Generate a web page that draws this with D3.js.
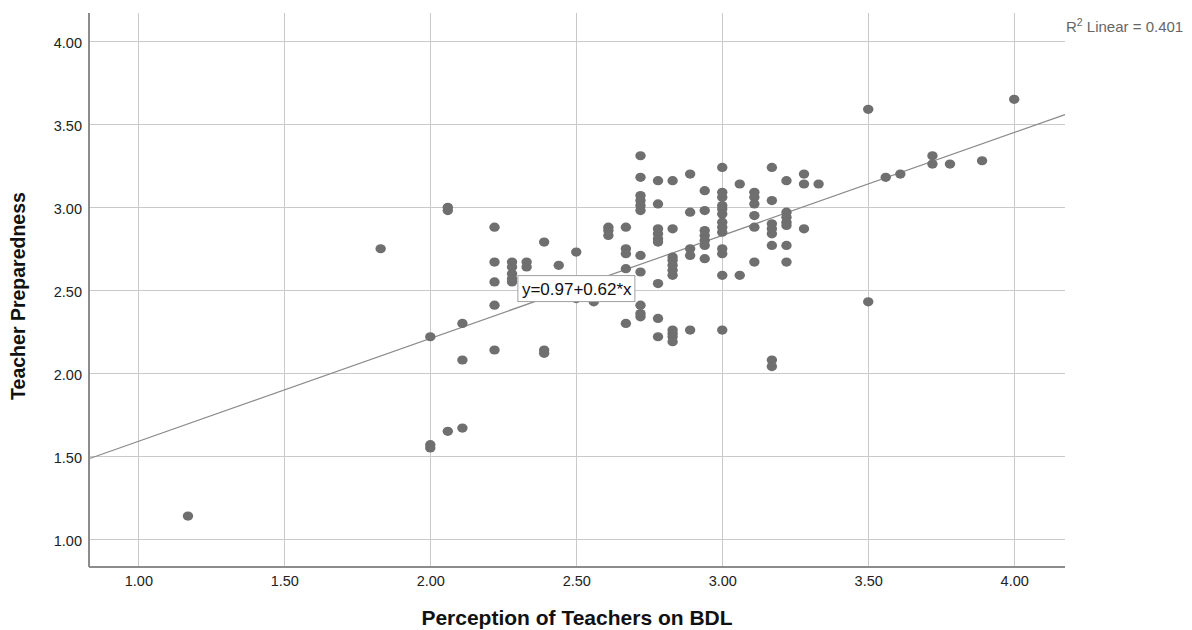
<!DOCTYPE html>
<html>
<head>
<meta charset="utf-8">
<script src="https://cdn.jsdelivr.net/npm/d3@7"></script>
<style>
  body { margin: 0; background: #fff; }
  svg { display: block; font-family: "Liberation Sans", Arial, sans-serif; }
</style>
</head>
<body>
<svg id="chart" width="1192" height="630"></svg>
<script>
// perception of teachers on BDL (x) and teacher preparedness (y), paired by index
var perception = [
  1.17, 1.83,
  2.00, 2.00, 2.00,
  2.06, 2.06, 2.06,
  2.11, 2.11, 2.11,
  2.22, 2.22, 2.22, 2.22, 2.22,
  2.28, 2.28, 2.28, 2.28, 2.28,
  2.33, 2.33,
  2.39, 2.39, 2.39,
  2.44,
  2.50, 2.50,
  2.56,
  2.61, 2.61, 2.61,
  2.67, 2.67, 2.67, 2.67, 2.67,
  2.72, 2.72, 2.72, 2.72, 2.72, 2.72, 2.72, 2.72, 2.72, 2.72, 2.72,
  2.78, 2.78, 2.78, 2.78, 2.78, 2.78, 2.78, 2.78, 2.78,
  2.83, 2.83, 2.83, 2.83, 2.83, 2.83, 2.83, 2.83, 2.83, 2.83, 2.83,
  2.89, 2.89, 2.89, 2.89, 2.89,
  2.94, 2.94, 2.94, 2.94, 2.94, 2.94, 2.94,
  3.00, 3.00, 3.00, 3.00, 3.00, 3.00, 3.00, 3.00, 3.00, 3.00, 3.00, 3.00, 3.00,
  3.06, 3.06,
  3.11, 3.11, 3.11, 3.11, 3.11, 3.11,
  3.17, 3.17, 3.17, 3.17, 3.17, 3.17, 3.17, 3.17,
  3.22, 3.22, 3.22, 3.22, 3.22, 3.22, 3.22,
  3.28, 3.28, 3.28,
  3.33,
  3.50, 3.50,
  3.56, 3.61,
  3.72, 3.72,
  3.78, 3.89, 4.00
];
var preparedness = [
  1.14, 2.75,
  2.22, 1.57, 1.55,
  3.00, 2.98, 1.65,
  2.30, 2.08, 1.67,
  2.88, 2.67, 2.55, 2.41, 2.14,
  2.67, 2.64, 2.60, 2.57, 2.55,
  2.67, 2.64,
  2.79, 2.14, 2.12,
  2.65,
  2.73, 2.45,
  2.43,
  2.88, 2.86, 2.83,
  2.88, 2.75, 2.72, 2.63, 2.30,
  3.31, 3.18, 3.07, 3.04, 3.01, 2.98, 2.71, 2.61, 2.41, 2.36, 2.34,
  3.16, 3.02, 2.87, 2.84, 2.81, 2.79, 2.54, 2.33, 2.22,
  3.16, 2.87, 2.70, 2.68, 2.65, 2.62, 2.59, 2.26, 2.24, 2.22, 2.19,
  3.20, 2.97, 2.75, 2.71, 2.26,
  3.10, 2.98, 2.86, 2.83, 2.80, 2.77, 2.69,
  3.24, 3.09, 3.06, 3.01, 2.99, 2.96, 2.91, 2.88, 2.85, 2.75, 2.72, 2.59, 2.26,
  3.14, 2.59,
  3.09, 3.06, 3.02, 2.95, 2.88, 2.67,
  3.24, 3.04, 2.90, 2.87, 2.84, 2.77, 2.08, 2.04,
  3.16, 2.97, 2.94, 2.91, 2.89, 2.77, 2.67,
  3.20, 3.14, 2.87,
  3.14,
  3.59, 2.43,
  3.18, 3.20,
  3.31, 3.26,
  3.26, 3.28, 3.65
];
var xTicks = [1.00, 1.50, 2.00, 2.50, 3.00, 3.50, 4.00];
var yTicks = [1.00, 1.50, 2.00, 2.50, 3.00, 3.50, 4.00];
var fitIntercept = 0.97;
var fitSlope = 0.62;
var fitLabel = "y=0.97+0.62*x";
var rSquared = "0.401";

var svg = d3.select("#chart");
var plotLeft = 89, plotRight = 1065, plotTop = 13, plotBottom = 567;

var x = d3.scaleLinear().domain([0.831, 4.174]).range([plotLeft, plotRight]);
var y = d3.scaleLinear().domain([0.833, 4.170]).range([plotBottom, plotTop]);

// grid
var grid = svg.append("g").attr("stroke", "#c9c9c9").attr("stroke-width", 1);
grid.selectAll(".vg").data(xTicks).enter().append("line")
  .attr("x1", d => Math.round(x(d)) + 0.5).attr("x2", d => Math.round(x(d)) + 0.5)
  .attr("y1", plotTop).attr("y2", plotBottom);
grid.selectAll(".hg").data(yTicks).enter().append("line")
  .attr("y1", d => Math.round(y(d)) + 0.5).attr("y2", d => Math.round(y(d)) + 0.5)
  .attr("x1", plotLeft).attr("x2", plotRight);

// axes
var xAxis = d3.axisBottom(x).tickValues(xTicks).tickFormat(d3.format(".2f")).tickSize(0).tickPadding(9);
var yAxis = d3.axisLeft(y).tickValues(yTicks).tickFormat(d3.format(".2f")).tickSize(0).tickPadding(7);

var gx = svg.append("g").attr("transform", "translate(0," + plotBottom + ")").call(xAxis);
var gy = svg.append("g").attr("transform", "translate(" + plotLeft + ",0)").call(yAxis);
[gx, gy].forEach(function (g) {
  g.select(".domain").remove();
  g.selectAll("text")
    .attr("fill", "#222")
    .style("font-size", "14.5px")
    .style("font-family", "'Liberation Sans', Arial, sans-serif");
});
gy.selectAll("text").attr("dy", "0.45em");

svg.append("line").attr("x1", plotLeft).attr("x2", plotLeft).attr("y1", plotTop).attr("y2", plotBottom)
  .attr("stroke", "#8c8c8c").attr("stroke-width", 2);
svg.append("line").attr("x1", plotLeft).attr("x2", plotRight).attr("y1", plotBottom).attr("y2", plotBottom)
  .attr("stroke", "#8c8c8c").attr("stroke-width", 2);

// fit line
var x0 = x.domain()[0], x1 = x.domain()[1];
svg.append("line")
  .attr("x1", x(x0)).attr("y1", y(fitIntercept + fitSlope * x0))
  .attr("x2", x(x1)).attr("y2", y(fitIntercept + fitSlope * x1))
  .attr("stroke", "#8a8a8a").attr("stroke-width", 1.2);

// points
svg.append("g").selectAll("ellipse").data(perception).enter().append("ellipse")
  .attr("cx", (d) => x(d))
  .attr("cy", (d, i) => y(preparedness[i]))
  .attr("rx", 5.2).attr("ry", 4.6)
  .attr("fill", "#6f6f6f");

// fit label box
var lab = svg.append("g").attr("transform", "translate(" + x(2.30) + "," + y(2.51) + ")");
lab.append("rect").attr("x", 0).attr("y", -13).attr("width", 117).attr("height", 26)
  .attr("fill", "#fff").attr("stroke", "#a0a0a0").attr("stroke-width", 1);
lab.append("text").attr("x", 4).attr("y", 6).attr("fill", "#111")
  .style("font-size", "17px").text(fitLabel);

// R2 text
var r2 = svg.append("text").attr("x", 1066).attr("y", 32).attr("fill", "#666").style("font-size", "15px");
r2.append("tspan").text("R");
r2.append("tspan").attr("dy", -6).style("font-size", "10.5px").text("2");
r2.append("tspan").attr("dy", 6).text(" Linear = " + rSquared);

// axis titles
svg.append("text").attr("x", 577).attr("y", 625).attr("text-anchor", "middle")
  .attr("fill", "#111").style("font-size", "21px").style("font-weight", "bold")
  .text("Perception of Teachers on BDL");
svg.append("text").attr("transform", "translate(25,296) rotate(-90)").attr("text-anchor", "middle")
  .attr("fill", "#111").style("font-size", "19.5px").style("font-weight", "bold")
  .text("Teacher Preparedness");
</script>
</body>
</html>
